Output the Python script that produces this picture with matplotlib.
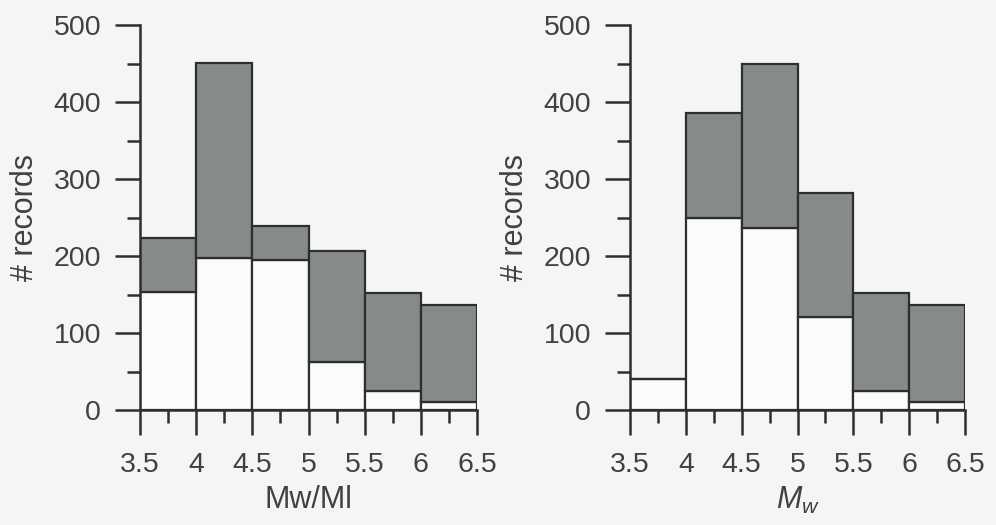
import matplotlib.pyplot as plt
from matplotlib.ticker import MultipleLocator

plt.rcParams['font.family'] = ['Liberation Sans', 'DejaVu Sans']
plt.rcParams['mathtext.fontset'] = 'custom'
plt.rcParams['mathtext.it'] = 'Liberation Sans:italic'
plt.rcParams['mathtext.rm'] = 'Liberation Sans'

# bin left edges (magnitude), bin width 0.5
bin_left = [3.5, 4.0, 4.5, 5.0, 5.5, 6.0]
tick_vals = [3.5, 4, 4.5, 5, 5.5, 6, 6.5]
tick_labels = ['3.5', '4', '4.5', '5', '5.5', '6', '6.5']

# left panel (Mw/Ml): total records and white (lower) part
left_total = [224, 450, 239, 206, 152, 136]
left_white = [153, 198, 195, 62, 25, 10]

# right panel (Mw)
right_total = [40, 386, 449, 282, 152, 137]
right_white = [40, 249, 236, 121, 25, 10]

bg = '#f4f5f4'
dark = '#2b2f30'
gray = '#868b89'
txt = '#3f4243'

fig = plt.figure(figsize=(9.96, 5.25), dpi=100, facecolor=bg)
ax1 = fig.add_axes([140 / 996, 115 / 525, 337 / 996, 385 / 525])
ax2 = fig.add_axes([630 / 996, 115 / 525, 335 / 996, 385 / 525])

panels = [(ax1, left_total, left_white, 'Mw/Ml'),
          (ax2, right_total, right_white, r'$M_w$')]

for ax, total, white, xlab in panels:
    ax.set_facecolor(bg)
    upper = [t - w for t, w in zip(total, white)]
    ax.bar(bin_left, white, width=0.5, align='edge', color='#fbfbfb',
           edgecolor=dark, linewidth=1.6, zorder=2)
    ax.bar(bin_left, upper, bottom=white, width=0.5, align='edge',
           color=gray, edgecolor=dark, linewidth=1.6, zorder=2)

    ax.set_xlim(3.5, 6.5)
    ax.set_ylim(0, 500)
    for s in ['top', 'right']:
        ax.spines[s].set_visible(False)
    for s in ['left', 'bottom']:
        ax.spines[s].set_linewidth(1.8)
        ax.spines[s].set_color(dark)
        ax.spines[s].set_zorder(3)

    ax.set_xticks(tick_vals)
    ax.set_xticklabels(tick_labels)
    ax.xaxis.set_minor_locator(MultipleLocator(0.25))
    ax.yaxis.set_major_locator(MultipleLocator(100))
    ax.yaxis.set_minor_locator(MultipleLocator(50))
    ax.tick_params(which='major', length=18, width=1.8, color=dark,
                   labelsize=20.5, labelcolor=txt, direction='out')
    ax.tick_params(axis='x', which='major', pad=12)
    ax.tick_params(axis='y', which='major', pad=10)
    ax.tick_params(which='minor', length=9.5, width=1.8, color=dark,
                   direction='out')
    for t in ax.get_xticklines() + ax.get_yticklines():
        t.set_clip_on(False)

    ax.set_xlabel(xlab, fontsize=22, color=txt, labelpad=5)
    ax.set_ylabel('# records', fontsize=22, color=txt, labelpad=10)

fig.savefig('out.png', dpi=100, facecolor=bg)
